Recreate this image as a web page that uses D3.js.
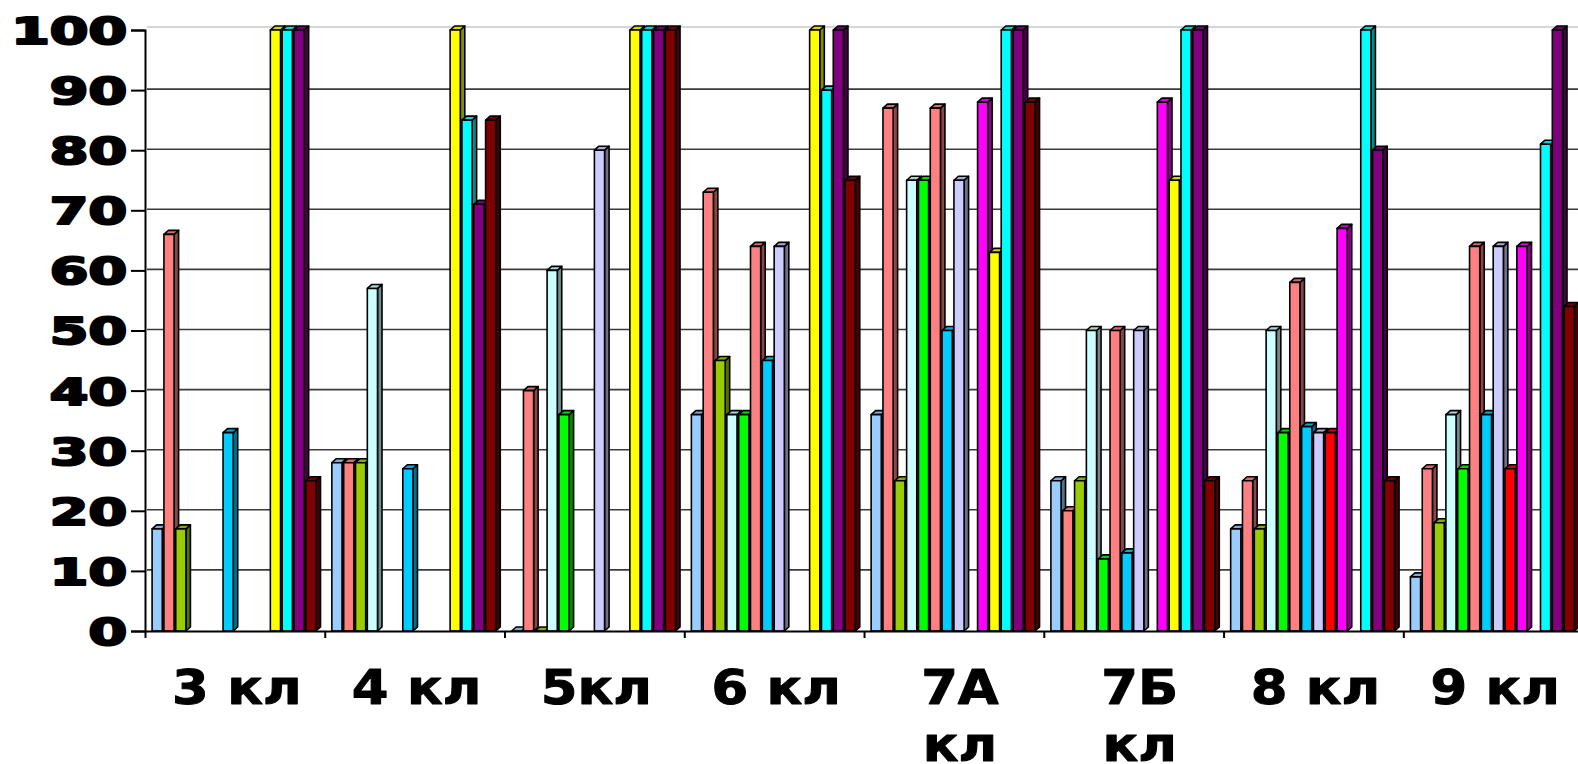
<!DOCTYPE html>
<html>
<head>
<meta charset="utf-8">
<script src="https://cdn.jsdelivr.net/npm/d3@7"></script>
<style>
  html, body { margin: 0; padding: 0; background: #fff; }
  svg { display: block; }
</style>
</head>
<body>
<svg id="chart" width="1578" height="764"></svg>
<script>
// ---- data ------------------------------------------------------------------
var categories = ["3 кл", "4 кл", "5кл", "6 кл", "7А кл", "7Б кл", "8 кл", "9 кл"];
// how Excel wrapped the category labels
var labelLines = [["3 кл"], ["4 кл"], ["5кл"], ["6 кл"], ["7А", "кл"], ["7Б", "кл"], ["8 кл"], ["9 кл"]];
var yTicks = [0, 10, 20, 30, 40, 50, 60, 70, 80, 90, 100];

var seriesNames = ["Ряд 1", "Ряд 2", "Ряд 3", "Ряд 4", "Ряд 5", "Ряд 6", "Ряд 7",
                   "Ряд 8", "Ряд 9", "Ряд 10", "Ряд 11", "Ряд 12", "Ряд 13", "Ряд 14"];
var seriesColors = ["#99CCFF", "#FF8080", "#99CC00", "#CCFFFF", "#00FF00", "#FF8080", "#00CCFF",
                    "#CCCCFF", "#FF0000", "#FF00FF", "#FFFF00", "#00FFFF", "#800080", "#800000"];

// one array per series, one value per class (null = no bar)
var s1  = [17, 28, 0, 36, 36, 25, 17, 9];
var s2  = [66, 28, 40, 73, 87, 20, 25, 27];
var s3  = [17, 28, 0, 45, 25, 25, 17, 18];
var s4  = [null, 57, 60, 36, 75, 50, 50, 36];
var s5  = [null, null, 36, 36, 75, 12, 33, 27];
var s6  = [null, null, null, 64, 87, 50, 58, 64];
var s7  = [33, 27, null, 45, 50, 13, 34, 36];
var s8  = [null, null, 80, 64, 75, 50, 33, 64];
var s9  = [null, null, null, null, null, null, 33, 27];
var s10 = [null, null, null, null, 88, 88, 67, 64];
var s11 = [100, 100, 100, 100, 63, 75, null, null];
var s12 = [100, 85, 100, 90, 100, 100, 100, 81];
var s13 = [100, 71, 100, 100, 100, 100, 80, 100];
var s14 = [25, 85, 100, 75, 88, 25, 25, 54];
var seriesValues = [s1, s2, s3, s4, s5, s6, s7, s8, s9, s10, s11, s12, s13, s14];

// ---- layout ----------------------------------------------------------------
var svg = d3.select("#chart");
var plotLeft = 145, plotTop = 30, plotBottom = 631;
var groupWidth = 179.76;
var plotRight = plotLeft + groupWidth * categories.length; // runs past the window, as in the picture
var depthX = 4.5, depthY = -4;

var x0 = d3.scaleBand().domain(categories).range([plotLeft, plotRight]).padding(0);
var x1 = d3.scaleBand().domain(d3.range(seriesNames.length))
    .range([0, x0.bandwidth()]).paddingInner(0).paddingOuter(0.6);
var y = d3.scaleLinear().domain([0, 100]).range([plotBottom, plotTop]);
var barW = x1.bandwidth() * 0.86;

svg.append("rect").attr("width", 1578).attr("height", 764).attr("fill", "#fff");

// back wall top edge + gridlines
svg.append("line")
    .attr("x1", plotLeft + 2).attr("x2", 1578)
    .attr("y1", y(100) - 3).attr("y2", y(100) - 3)
    .attr("stroke", "#c8c8c8").attr("stroke-width", 1.5);

svg.append("g").selectAll("line")
    .data(yTicks.filter(function(t) { return t > 0 && t < 100; }))
    .enter().append("line")
    .attr("x1", plotLeft + 2).attr("x2", 1578)
    .attr("y1", function(d) { return y(d) - 1; })
    .attr("y2", function(d) { return y(d) - 1; })
    .attr("stroke", "#3a3a3a").attr("stroke-width", 1.6);

// ---- 3D columns ------------------------------------------------------------
var bars = [];
categories.forEach(function(cat, ci) {
    seriesValues.forEach(function(vals, si) {
        if (vals[ci] === null) return;
        bars.push({ cat: cat, s: si, v: vals[ci] });
    });
});

function pts(a) { return a.map(function(p) { return p.join(","); }).join(" "); }

var barG = svg.append("g")
    .attr("stroke", "#000").attr("stroke-width", 1.6).attr("stroke-linejoin", "round");

bars.forEach(function(d) {
    var xa = x0(d.cat) + x1(d.s), xb = xa + barW;
    var yt = y(d.v), yb = y(0);
    var col = d3.color(seriesColors[d.s]);
    var g = barG.append("g");
    // right side
    g.append("polygon")
        .attr("points", pts([[xb, yt], [xb + depthX, yt + depthY], [xb + depthX, yb + depthY], [xb, yb]]))
        .attr("fill", col.darker(1.7));
    // top
    g.append("polygon")
        .attr("points", pts([[xa, yt], [xa + depthX, yt + depthY], [xb + depthX, yt + depthY], [xb, yt]]))
        .attr("fill", col.darker(0.5));
    // front
    if (d.v > 0) {
        g.append("rect")
            .attr("x", xa).attr("y", yt)
            .attr("width", barW).attr("height", yb - yt)
            .attr("fill", col);
    }
});

// ---- axes ------------------------------------------------------------------
var axisY = d3.axisLeft(y).tickValues(yTicks).tickSize(14).tickFormat("");
svg.append("g").attr("transform", "translate(" + plotLeft + ",0)").call(axisY)
    .call(function(g) {
        g.selectAll("line, path").attr("stroke", "#000").attr("stroke-width", 2);
    });

var axisX = d3.axisBottom(d3.scaleLinear().domain([0, categories.length]).range([plotLeft, plotRight]))
    .tickValues(d3.range(categories.length + 1)).tickSize(7).tickSizeOuter(0).tickFormat("");
svg.append("g").attr("transform", "translate(0," + plotBottom + ")").call(axisX)
    .call(function(g) {
        g.selectAll("line, path").attr("stroke", "#000").attr("stroke-width", 2);
    });

// y tick labels (wide, heavy face)
svg.append("g").selectAll("text")
    .data(yTicks).enter().append("text")
    .attr("transform", function(d) { return "translate(127," + (y(d) + 1) + ") scale(1.5,1)"; })
    .attr("text-anchor", "end")
    .attr("dominant-baseline", "central")
    .attr("font-family", "DejaVu Sans")
    .attr("font-weight", "bold")
    .attr("font-size", 37)
    .attr("fill", "#000").attr("stroke", "#000").attr("stroke-width", 2.2)
    .attr("stroke-linejoin", "round")
    .text(function(d) { return d; });

// category labels
var catG = svg.append("g").selectAll("g")
    .data(categories).enter().append("g")
    .attr("transform", function(d, i) {
        var shift = labelLines[i].length > 1 ? 6 : 2;
        return "translate(" + (x0(d) + x0.bandwidth() / 2 + shift) + ",0)";
    });

catG.each(function(d, i) {
    d3.select(this).selectAll("text")
        .data(labelLines[i]).enter().append("text")
        .attr("transform", function(line, li) { return "translate(0," + (704 + li * 57) + ") scale(1.1,1)"; })
        .attr("text-anchor", "middle")
        .attr("font-family", "DejaVu Sans")
        .attr("font-weight", "bold")
        .attr("font-size", 48)
        .attr("fill", "#000").attr("stroke", "#000").attr("stroke-width", 1)
        .attr("stroke-linejoin", "round")
        .text(function(line) { return line; });
});
</script>
</body>
</html>
